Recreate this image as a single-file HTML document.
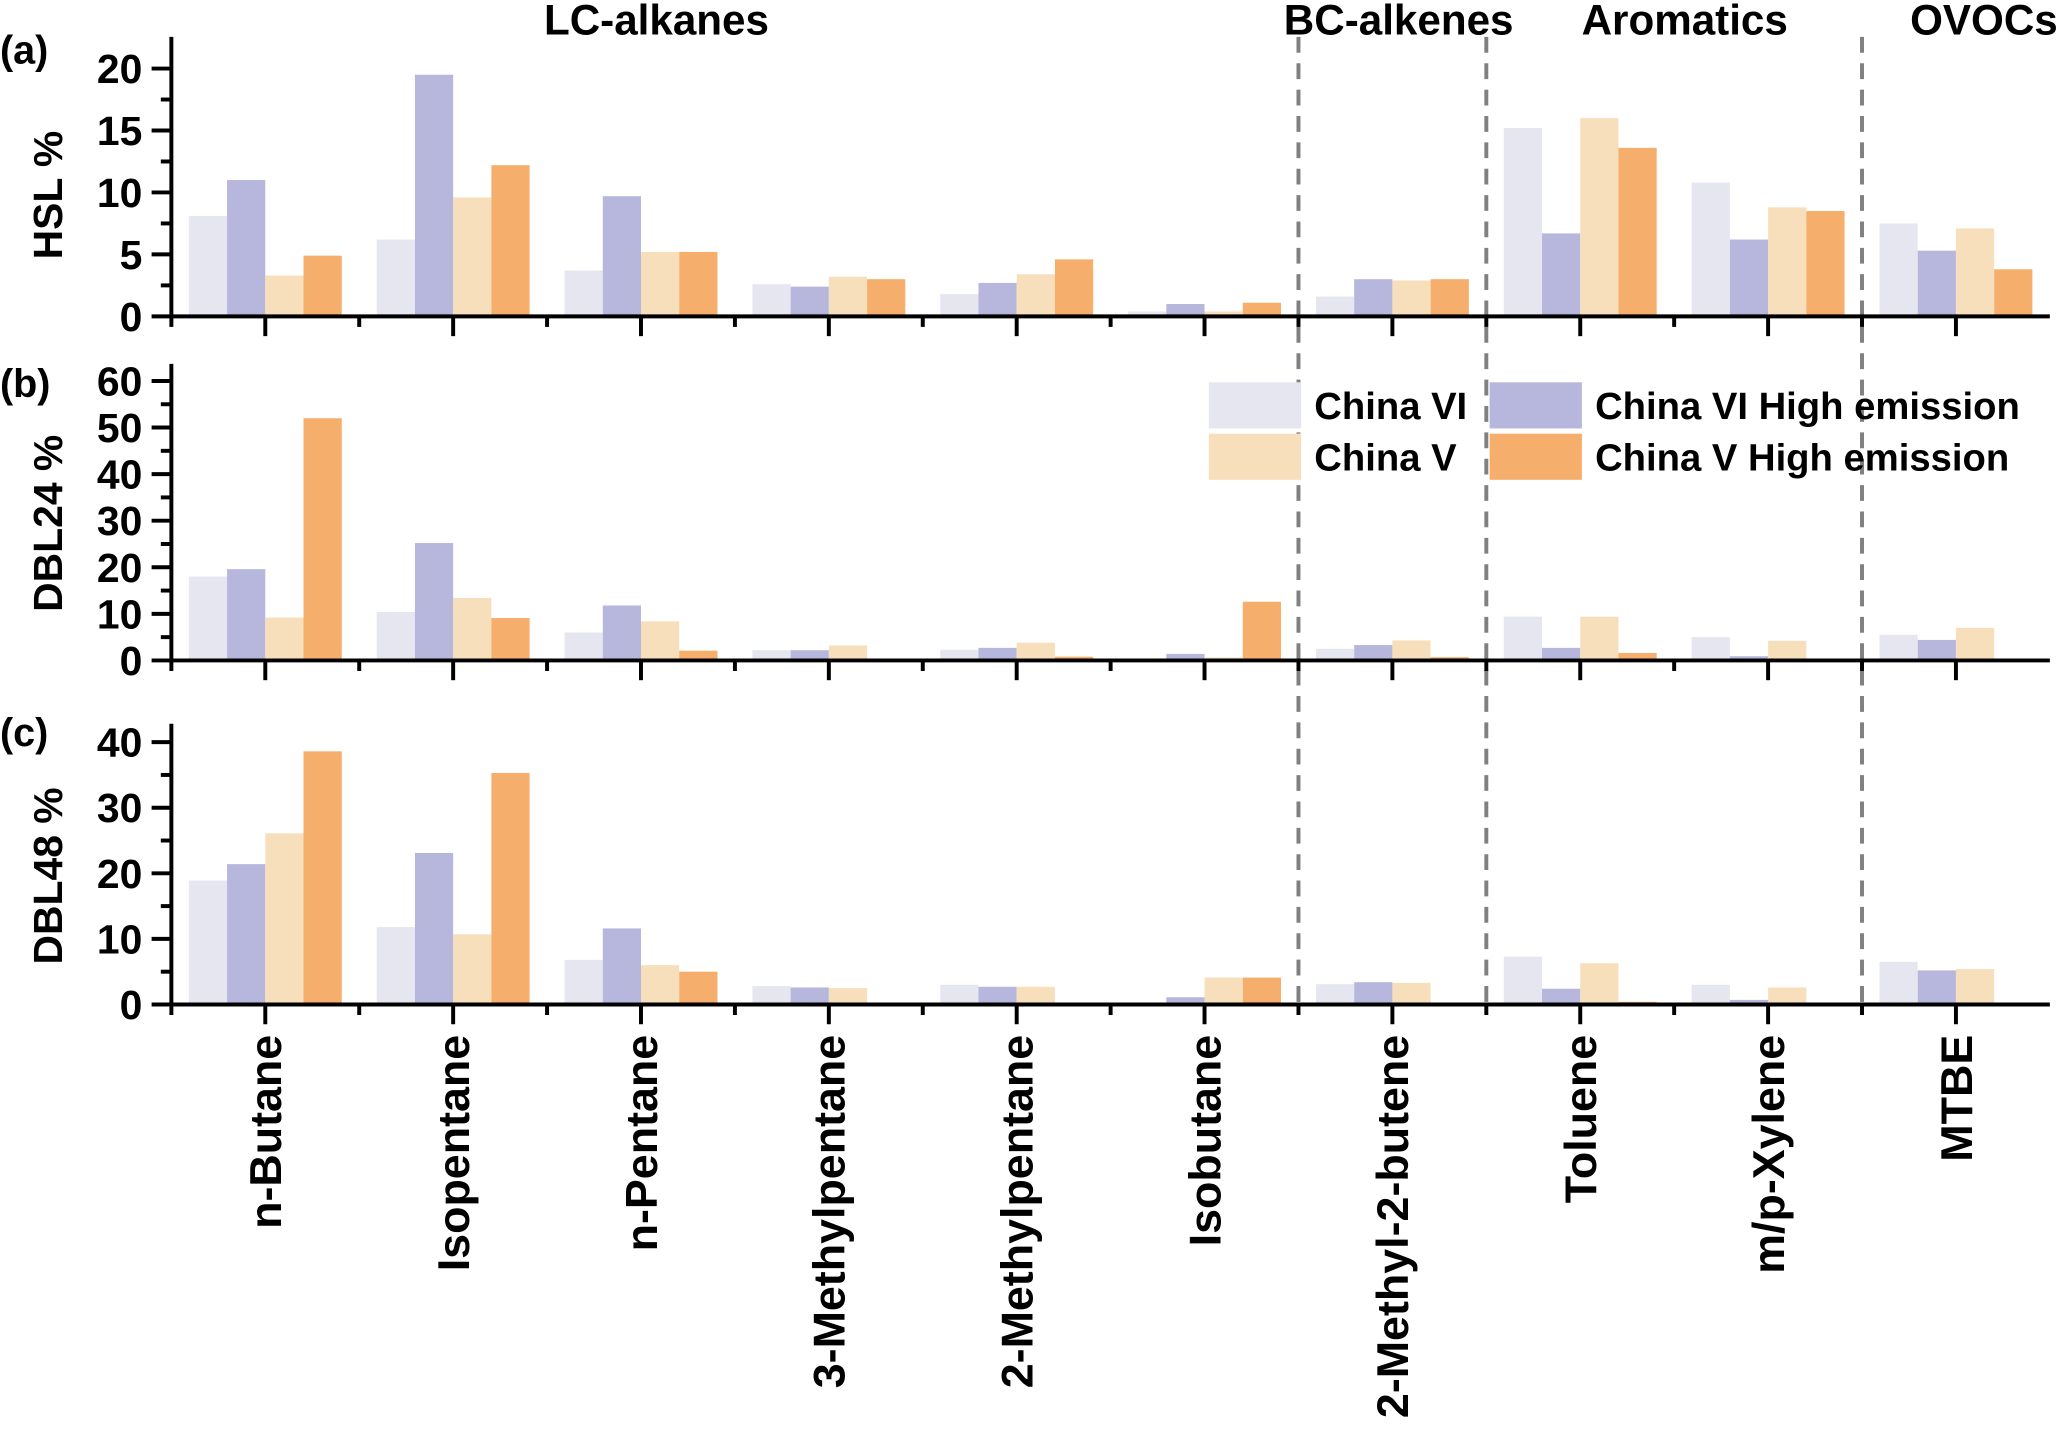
<!DOCTYPE html>
<html><head><meta charset="utf-8"><style>
html,body{margin:0;padding:0;background:#fff}
svg{display:block}
text{font-family:"Liberation Sans",Arial,sans-serif;font-weight:bold;fill:#000}
</style></head><body>
<svg id="chart" width="2067" height="1435" viewBox="0 0 1568 1088.6" preserveAspectRatio="none" xmlns="http://www.w3.org/2000/svg"></svg>
<script>
const categories=["n-Butane","Isopentane","n-Pentane","3-Methylpentane","2-Methylpentane","Isobutane","2-Methyl-2-butene","Toluene","m/p-Xylene","MTBE"];
const seriesNames=["China VI","China VI High emission","China V","China V High emission"];
const hslVI=[8.1,6.2,3.7,2.6,1.8,0.4,1.6,15.2,10.8,7.5];
const hslVIH=[11,19.5,9.7,2.4,2.7,1.0,3.0,6.7,6.2,5.3];
const hslV=[3.3,9.6,5.2,3.2,3.4,0.4,2.9,16.0,8.8,7.1];
const hslVH=[4.9,12.2,5.2,3.0,4.6,1.1,3.0,13.6,8.5,3.8];
const d24VI=[18,10.4,6,2.2,2.3,0.2,2.5,9.4,5.0,5.5];
const d24VIH=[19.6,25.2,11.8,2.2,2.7,1.4,3.3,2.7,0.9,4.4];
const d24V=[9.2,13.4,8.4,3.2,3.8,0.6,4.3,9.4,4.2,7.0];
const d24VH=[52,9.1,2.1,0.2,0.8,12.6,0.7,1.6,0.4,0];
const d48VI=[18.9,11.8,6.8,2.8,3.0,0.2,3.1,7.3,3.0,6.5];
const d48VIH=[21.4,23.1,11.6,2.6,2.7,1.1,3.4,2.4,0.7,5.2];
const d48V=[26.1,10.7,6.0,2.5,2.7,4.1,3.3,6.3,2.6,5.4];
const d48VH=[38.6,35.3,5.0,0,0,4.1,0.3,0.4,0,0];
const ticksA=[0,5,10,15,20];
const ticksB=[0,10,20,30,40,50,60];
const ticksC=[0,10,20,30,40];
const colors=["#e6e6f0","#b7b7de","#f7dfbc","#f6ae6c"];
const svg=document.getElementById('chart');
const NS="http://www.w3.org/2000/svg";
function mk(tag,attrs,parent){const e=document.createElementNS(NS,tag);for(const k in attrs)e.setAttribute(k,attrs[k]);(parent||svg).appendChild(e);return e;}
const X0=130,X1=1555,step=(X1-X0)/categories.length;
function xc(i){return X0+step*(i+0.5);}
const panels=[
 {name:"hsl",label:"(a)",yt:"HSL %",y0:240,max:20,top:28,pxTop:52,ticks:ticksA,data:[hslVI,hslVIH,hslV,hslVH],ly:48},
 {name:"dbl24",label:"(b)",yt:"DBL24 %",y0:501,max:60,top:276,pxTop:289,ticks:ticksB,data:[d24VI,d24VIH,d24V,d24VH],ly:301},
 {name:"dbl48",label:"(c)",yt:"DBL48 %",y0:762,max:40,top:549,pxTop:563,ticks:ticksC,data:[d48VI,d48VIH,d48V,d48VH],ly:566}
];
[6,7,9].forEach(k=>{const l=mk('line',{x1:X0+step*k,x2:X0+step*k,y1:28,y2:762,stroke:'#808080','stroke-width':3,'stroke-dasharray':'12,8'});

});
panels.forEach(p=>{
 const g=mk('g',{});
 
 
 const sc=(p.y0-p.pxTop)/p.max;
 const y=v=>p.y0-v*sc;
 const bw=29;
 p.data.forEach((ser,s)=>{ser.forEach((v,i)=>{
  const r=mk('rect',{x:xc(i)-58+s*bw,y:y(v),width:bw,height:v*sc,fill:colors[s]},g);
  
  
 });});
 mk('line',{x1:X0,x2:X0,y1:p.top,y2:p.y0+1.5,stroke:'#000','stroke-width':3},g);
 mk('line',{x1:X0-1.5,x2:X1,y1:p.y0,y2:p.y0,stroke:'#000','stroke-width':3},g);
 const tstep=p.ticks[1]-p.ticks[0];
 p.ticks.forEach((t,k)=>{
  mk('line',{x1:X0-15,x2:X0,y1:y(t),y2:y(t),stroke:'#000','stroke-width':3},g);
  if(k<p.ticks.length-1)mk('line',{x1:X0-8,x2:X0,y1:y(t+tstep/2),y2:y(t+tstep/2),stroke:'#000','stroke-width':3},g);
  const tx=mk('text',{x:X0-22,y:y(t)+11,'text-anchor':'end','font-size':31},g);tx.textContent=t;
  
  
 });
 for(let i=0;i<categories.length;i++){
  mk('line',{x1:xc(i),x2:xc(i),y1:p.y0,y2:p.y0+15,stroke:'#000','stroke-width':3},g);
  mk('line',{x1:X0+step*i,x2:X0+step*i,y1:p.y0,y2:p.y0+8,stroke:'#000','stroke-width':3},g);
 }
 const yt=mk('text',{x:0,y:0,'text-anchor':'middle','font-size':31,transform:`translate(47,${(p.y0+p.pxTop)/2+2}) rotate(-90)`},g);yt.textContent=p.yt;
 
 
 const pl=mk('text',{x:0,y:p.ly,'font-size':30},g);pl.textContent=p.label;
 
 
});
categories.forEach((c,i)=>{
 const t=mk('text',{x:0,y:0,'text-anchor':'end','font-size':34,transform:`translate(${xc(i)+12},785) rotate(-90)`});t.textContent=c;
 
 
});
[["LC-alkanes",498],["BC-alkenes",1061],["Aromatics",1278],["OVOCs",1505]].forEach(([n,x])=>{
 const t=mk('text',{x:x,y:26,'text-anchor':'middle','font-size':32});t.textContent=n;
 
 
});
const leg=[[917,290,0],[1130,290,1],[917,329,2],[1130,329,3]];
leg.forEach(([x,yy,s])=>{
 const g=mk('g',{});
 
 
 mk('rect',{x:x,y:yy,width:70,height:35,fill:colors[s]},g);
 const t=mk('text',{x:x+80,y:yy+28,'font-size':29},g);t.textContent=seriesNames[s];
});
</script>
</body></html>
